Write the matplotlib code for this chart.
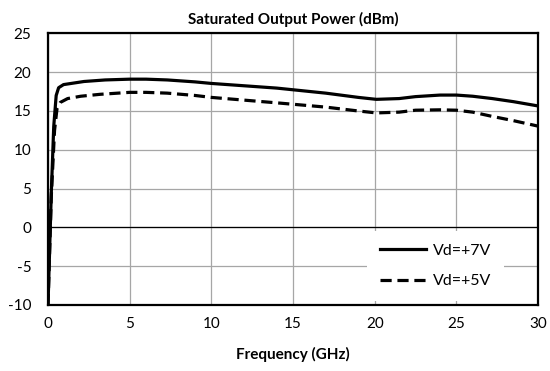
import numpy as np
import matplotlib
matplotlib.use("Agg")
import matplotlib.pyplot as plt

plt.rcParams['font.family'] = ['Lato', 'DejaVu Sans']
plt.rcParams['axes.unicode_minus'] = False

# values
freq_7v = [0, 0.2, 0.35, 0.5, 0.65, 0.95, 2.2, 3.5, 5.0, 6.0, 7.3, 9.0, 10.0,
           12.0, 14.0, 17.0, 19.0, 20.1, 21.5, 22.5, 24.0, 25.0, 26.0, 27.2, 28.5, 30.0]
pout_7v = [-10, 4.4, 13.0, 17.0, 18.0, 18.4, 18.8, 19.0, 19.1, 19.1, 19.0, 18.75, 18.55,
           18.25, 17.95, 17.3, 16.75, 16.5, 16.6, 16.85, 17.05, 17.05, 16.9, 16.6, 16.2, 15.65]

freq_5v = [0, 0.2, 0.4, 0.55, 0.75, 1.2, 2.0, 3.2, 5.0, 6.0, 7.3, 9.0, 10.0,
           12.0, 14.0, 17.0, 19.0, 20.1, 21.5, 22.5, 24.0, 25.0, 26.0, 27.2, 28.5, 30.0]
pout_5v = [-10, 4.0, 12.5, 15.3, 16.1, 16.6, 16.9, 17.15, 17.4, 17.4, 17.3, 17.0, 16.75,
           16.4, 16.05, 15.5, 15.0, 14.75, 14.85, 15.1, 15.15, 15.1, 14.85, 14.3, 13.75, 13.05]

fig = plt.figure(figsize=(5.5, 3.71), dpi=100)
ax = fig.add_axes([0.0873, 0.178, 0.8909, 0.732])

ax.plot(freq_7v, pout_7v, color='black', lw=2.3, label='Vd=+7V', zorder=3)
ax.plot(freq_5v, pout_5v, color='black', lw=2.3, dashes=(3.5, 1.8), label='Vd=+5V', zorder=3)

ax.set_xlim(0, 30)
ax.set_ylim(-10, 25)
ax.set_xticks(np.arange(0, 31, 5))
ax.set_yticks(np.arange(-10, 26, 5))
ax.grid(True, color='#a6a6a6', lw=0.9)
ax.axhline(0, color='black', lw=0.9, zorder=2)
ax.set_axisbelow(True)

for s in ax.spines.values():
    s.set_linewidth(1.6)
    s.set_color('black')

ax.tick_params(axis='x', length=0, pad=9, labelsize=11)
ax.tick_params(axis='y', length=0, pad=12, labelsize=11)

ax.set_title('Saturated Output Power (dBm)', fontsize=11, fontweight='bold', pad=7)
ax.set_xlabel('Frequency (GHz)', fontsize=11, fontweight='bold', labelpad=11)

leg = ax.legend(loc='lower right', bbox_to_anchor=(0.93, 0.015), frameon=True,
                fancybox=False, edgecolor='none', facecolor='white', framealpha=1,
                fontsize=11.5, handlelength=2.9, handletextpad=0.4,
                labelspacing=1.0, borderpad=0.8, borderaxespad=0)
leg.set_zorder(4)

fig.savefig('out.png', dpi=100)
